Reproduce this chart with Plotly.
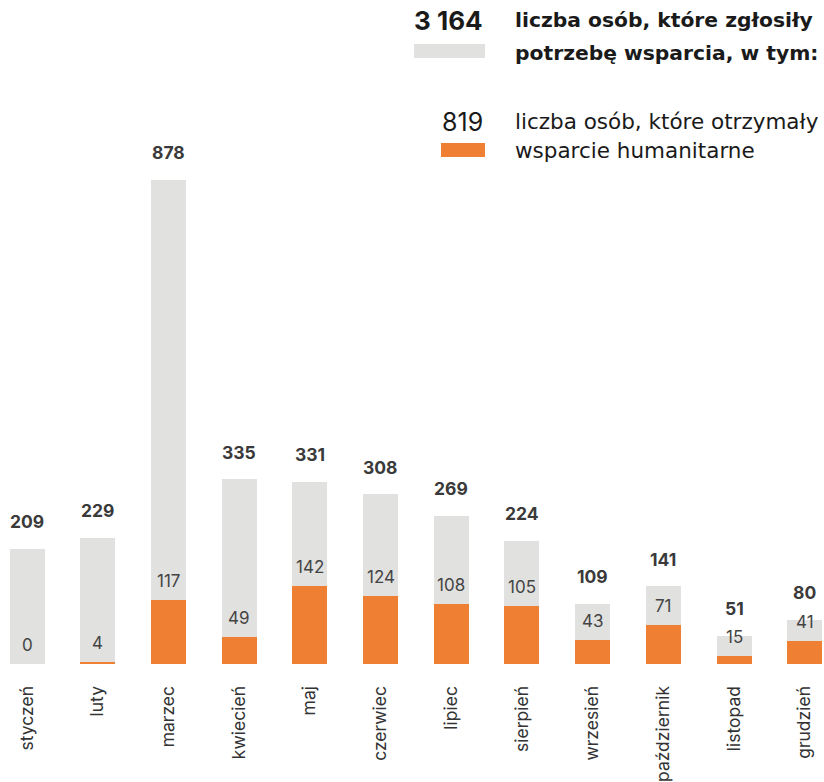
import plotly.graph_objects as go

months = ["styczeń", "luty", "marzec", "kwiecień", "maj", "czerwiec", "lipiec",
          "sierpień", "wrzesień", "październik", "listopad", "grudzień"]
total = [209, 229, 878, 335, 331, 308, 269, 224, 109, 141, 51, 80]
helped = [0, 4, 117, 49, 142, 124, 108, 105, 43, 71, 15, 41]
total_sum = "3 164"
helped_sum = "819"
legend_total = ["liczba osób, które zgłosiły", "potrzebę wsparcia, w tym:"]
legend_helped = ["liczba osób, które otrzymały", "wsparcie humanitarne"]

GRAY = "#e1e1e0"
ORANGE = "#ee7f33"
FONT = "Inter"
LFONT = "DejaVu Sans"
x = list(range(len(months)))

fig = go.Figure()
fig.add_trace(go.Bar(x=x, y=total, width=0.495, marker=dict(color=GRAY, line=dict(width=0)),
                     hoverinfo="skip"))
fig.add_trace(go.Bar(x=x, y=helped, width=0.495, marker=dict(color=ORANGE, line=dict(width=0)),
                     hoverinfo="skip"))

for i, (t, h) in enumerate(zip(total, helped)):
    fig.add_annotation(x=i, y=t, text=f"<b>{t}</b>", showarrow=False, yshift=27,
                       yanchor="middle", font=dict(family=FONT, size=17.5, color="#3a3a3a"))
    fig.add_annotation(x=i, y=h, text=str(h), showarrow=False, yshift=19,
                       yanchor="middle", font=dict(family=FONT, size=17, color="#444444"))

# legend block (paper coords; plot area spans full width, height 664)
def py(pix):
    return 1 - pix / 664.0

def px(pix):
    return pix / 824.0

fig.add_annotation(xref="paper", yref="paper", x=px(485), y=py(21), xanchor="right",
                   yanchor="middle", text=f"<b>{total_sum}</b>", showarrow=False,
                   font=dict(family=FONT, size=26, color="#1a1a1a"))
fig.add_shape(type="rect", xref="paper", yref="paper", x0=px(414), x1=px(485),
              y0=py(58), y1=py(44), fillcolor=GRAY, line=dict(width=0))
for k, line in enumerate(legend_total):
    fig.add_annotation(xref="paper", yref="paper", x=px(513), y=py(20 + 33 * k),
                       xanchor="left", yanchor="middle", text=f"<b>{line}</b>",
                       showarrow=False, font=dict(family=LFONT, size=20.3, color="#1a1a1a"))

fig.add_annotation(xref="paper", yref="paper", x=px(485), y=py(122), xanchor="right",
                   yanchor="middle", text=helped_sum, showarrow=False,
                   font=dict(family=FONT, size=25, color="#1a1a1a"))
fig.add_shape(type="rect", xref="paper", yref="paper", x0=px(441), x1=px(485),
              y0=py(157), y1=py(143), fillcolor=ORANGE, line=dict(width=0))
for k, line in enumerate(legend_helped):
    fig.add_annotation(xref="paper", yref="paper", x=px(513), y=py(121 + 29 * k),
                       xanchor="left", yanchor="middle", text=line,
                       showarrow=False, font=dict(family=LFONT, size=21.5, color="#1a1a1a"))

fig.update_layout(
    width=824, height=782,
    margin=dict(l=0, r=0, t=0, b=118, pad=0),
    barmode="overlay",
    showlegend=False,
    plot_bgcolor="white", paper_bgcolor="white",
    bargap=0,
    xaxis=dict(range=[-0.382, 11.273], tickmode="array", tickvals=x, ticktext=months,
               tickangle=-90, ticks="outside", ticklen=14, tickcolor="rgba(0,0,0,0)",
               showgrid=False, zeroline=False, showline=False,
               tickfont=dict(family=FONT, size=17.5, color="#333333"), fixedrange=True),
    yaxis=dict(range=[0, 1204.4], visible=False, showgrid=False, zeroline=False,
               fixedrange=True),
)

fig.write_html("out.html")
